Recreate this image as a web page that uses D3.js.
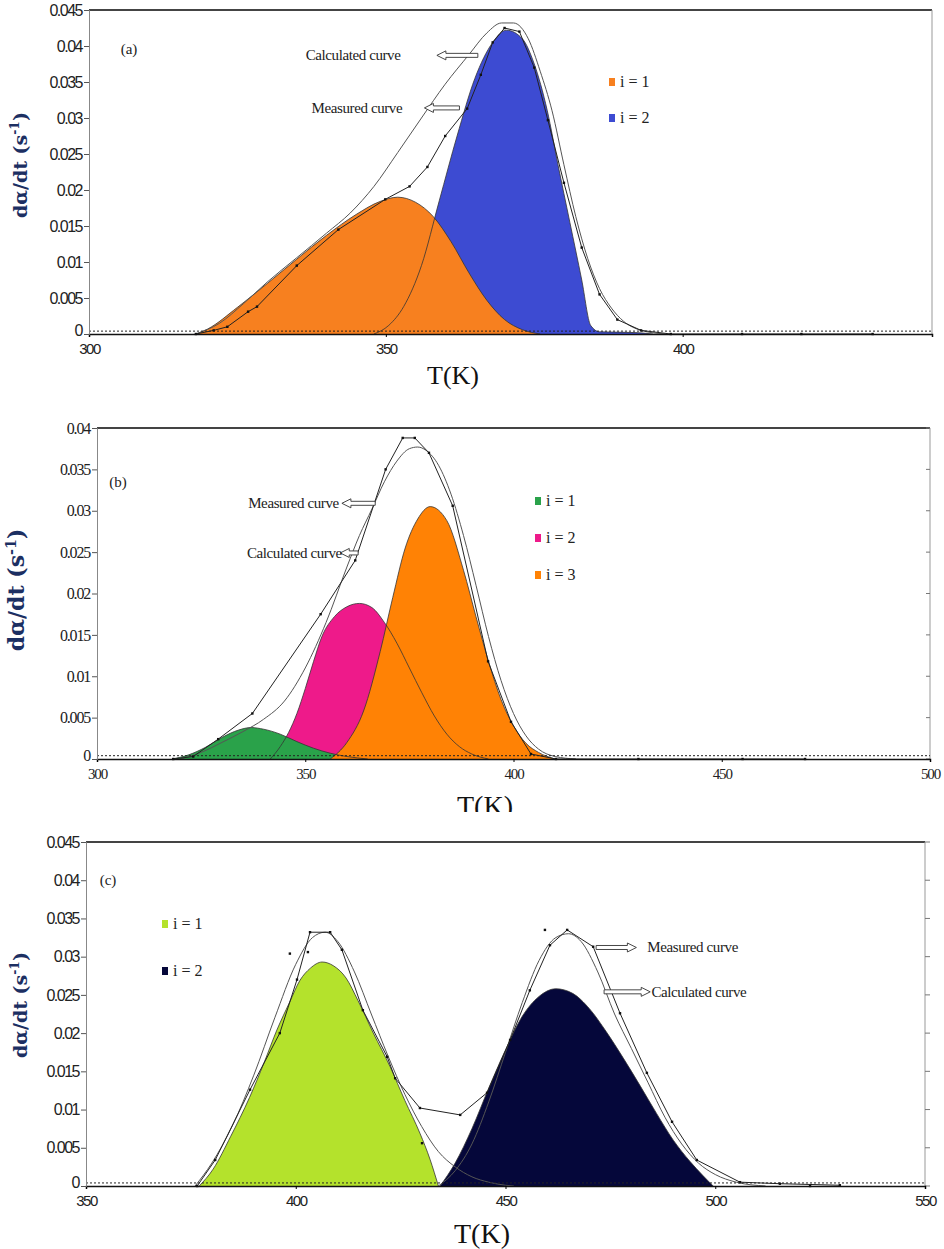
<!DOCTYPE html>
<html>
<head>
<meta charset="utf-8">
<script src="https://cdn.jsdelivr.net/npm/d3@7"></script>
<style>
  body { margin: 0; background: #fff; }
  .tick text { font-family: "Liberation Sans Narrow", "Liberation Sans", sans-serif; }
</style>
</head>
<body>
<svg id="chart" width="944" height="1249"></svg>
<script>
// ---------- data: [T (K), dα/dt (1/s)] ----------
// panel (a)
const aComp1 = [[318,0],[320,0.0007],[325,0.0037],[330,0.007],[335,0.0104],[340,0.0137],[345,0.0166],[349,0.0184],[352,0.019],[355,0.0183],[358,0.0163],[361,0.0128],[364,0.0085],[367,0.0047],[370,0.002],[373,0.0006],[376,0]];
const aComp2 = [[348,0],[350.5,0.0012],[353,0.0038],[356,0.0095],[359,0.0185],[362,0.0275],[365,0.0355],[368,0.0405],[370.3,0.0422],[373,0.041],[375,0.0375],[377.2,0.031],[379,0.0235],[381,0.0155],[383,0.0075],[384.5,0.0012],[386,0.0003],[392,0.0002],[395,0]];
const aCalc = [[318,0],[322,0.0015],[326,0.0042],[330,0.0072],[335,0.0106],[340,0.014],[344,0.0168],[348,0.0205],[352,0.0252],[356,0.03],[360,0.0347],[364,0.0388],[367,0.0418],[369.5,0.0432],[371.5,0.0432],[374,0.041],[376,0.0365],[378,0.031],[380,0.0235],[382,0.0163],[384,0.0105],[386,0.0063],[388,0.0036],[390,0.0018],[393,0.0005],[397,0]];
const aMeas = [[318,0],[321,0.0005],[323.3,0.001],[326.8,0.0031],[328.3,0.0038],[335,0.0095],[342,0.0145],[349.9,0.0187],[354,0.0205],[357,0.0232],[360,0.0275],[363.7,0.0313],[366,0.036],[368,0.0405],[370,0.0425],[372.5,0.042],[375,0.037],[377.3,0.0297],[380,0.021],[383,0.012],[386,0.0055],[389,0.002],[393,0.0005],[398,0],[410,0],[420,0],[432,0]];
const aTicksY = [0,0.005,0.01,0.015,0.02,0.025,0.03,0.035,0.04,0.045];
const aTicksX = [300,350,400];

// panel (b)
const bComp1 = [[318,0],[322,0.0005],[326,0.0014],[330,0.0026],[334,0.0035],[337,0.0038],[340,0.0036],[344,0.003],[348,0.0021],[352,0.0013],[356,0.0007],[360,0.0003],[365,0]];
const bComp2 = [[341.6,0],[344,0.0015],[346,0.0032],[348,0.0055],[350,0.0085],[352,0.0118],[354,0.0148],[357,0.0172],[360,0.0184],[363,0.0188],[366,0.0183],[369,0.0165],[372,0.014],[375,0.011],[378,0.008],[381,0.0052],[384,0.003],[387,0.0015],[390,0.0006],[394,0]];
const bComp3 = [[356,0],[360,0.002],[364,0.0058],[368,0.013],[371,0.0195],[374,0.0255],[377,0.029],[380,0.0305],[384,0.0288],[388,0.0228],[391,0.0172],[394,0.0118],[397,0.0072],[400,0.004],[403,0.0019],[406,0.0008],[410,0]];
const bCalc = [[320,0],[325,0.0008],[330,0.002],[335,0.0033],[340,0.0048],[345,0.007],[350,0.011],[355,0.0165],[360,0.0232],[363,0.027],[366,0.0302],[369,0.0335],[372,0.036],[375,0.0375],[377,0.0377],[379,0.0373],[382,0.0355],[385,0.032],[388,0.027],[391,0.021],[394,0.0148],[397,0.0095],[400,0.0055],[403,0.0028],[406,0.0012],[410,0.0003],[415,0]];
const bMeas = [[318.3,0],[323.1,0.0003],[329.1,0.0024],[337.3,0.0055],[353.7,0.0175],[362,0.024],[369.3,0.035],[373.4,0.0388],[376.3,0.0388],[379.7,0.037],[385.4,0.0306],[393.9,0.0118],[399.4,0.0045],[404.2,0.0006],[410.2,0],[430,0],[455,0],[470,0]];
const bTicksY = [0,0.005,0.01,0.015,0.02,0.025,0.03,0.035,0.04];
const bTicksX = [300,350,400,450,500];

// panel (c)
const cComp1 = [[377,0],[380.3,0.0022],[384.5,0.0065],[389,0.0116],[392.5,0.0162],[395.5,0.0204],[398.5,0.024],[401,0.0269],[403.5,0.0285],[406.3,0.0293],[409,0.0288],[412,0.0272],[414.8,0.0243],[418.5,0.02],[422.5,0.0156],[426,0.0112],[429.6,0.0069],[432,0.0035],[434,0]];
const cComp2 = [[434.4,0],[438,0.003],[442,0.0075],[446,0.0128],[450,0.0178],[454,0.0222],[458,0.0248],[462,0.0258],[466,0.0252],[470,0.0232],[474,0.0202],[478,0.0168],[482,0.0132],[486,0.0095],[490,0.006],[494,0.0032],[497,0.0014],[499.5,0]];
const cCalc1 = [[376,0],[380,0.003],[385,0.008],[390,0.0145],[395,0.022],[400,0.029],[404,0.0325],[407,0.0332],[410,0.032],[414,0.028],[418,0.0225],[422,0.017],[426,0.012],[430,0.0078],[434,0.0045],[438,0.0025],[442,0.0012],[446,0.0005],[450,0.0001],[452,0]];
const cCalc2 = [[434,0],[438,0.002],[442,0.0055],[446,0.011],[450,0.0175],[454,0.024],[458,0.0295],[462,0.0325],[465,0.033],[468,0.032],[472,0.028],[476,0.0225],[480,0.018],[484,0.0135],[488,0.009],[492,0.0055],[496,0.003],[500,0.0015],[505,0.0005],[512,0]];
const cMeas = [[376.5,0],[380.8,0.0034],[389.1,0.0126],[396.2,0.02],[400.3,0.027],[403.4,0.0332],[408.2,0.0332],[411,0.0309],[416,0.023],[421.8,0.0169],[423.7,0.0141],[429.6,0.0102],[439.2,0.0093],[445.6,0.0122],[451.1,0.0191],[455.8,0.0256],[460.6,0.0315],[464.7,0.0335],[470.9,0.0313],[477.3,0.0226],[483.7,0.0148],[489.7,0.0084],[495.6,0.0034],[505.9,0.0005],[515.4,0.0003],[529.7,0.0001]];
const cStray = [[398.6,0.0304],[402.9,0.0306],[459.4,0.0335],[430.1,0.0056],[522.6,0]];
const cTicksY = [0,0.005,0.01,0.015,0.02,0.025,0.03,0.035,0.04,0.045];
const cTicksX = [350,400,450,500,550];

const legendA = ['i = 1', 'i = 2'];
const legendB = ['i = 1', 'i = 2', 'i = 3'];
const legendC = ['i = 1', 'i = 2'];

const svg = d3.select('#chart');
svg.append('rect').attr('width', 944).attr('height', 1249).attr('fill', '#fff');

const fmtY = d => d === 0 ? '0' : d3.format('.3~f')(d);

function drawPanel(p) {
    const g = svg.append('g');
    g.append('rect')
        .attr('x', 0).attr('y', p.bgTop).attr('width', 944).attr('height', p.bgH)
        .attr('fill', '#fff');
    const x = d3.scaleLinear().domain(p.xDomain).range(p.xRange);
    const y = d3.scaleLinear().domain(p.yDomain).range(p.yRange);

    // frame: top and right
    g.append('line')
        .attr('x1', p.xRange[0]).attr('x2', p.xRange[1])
        .attr('y1', p.yRange[1]).attr('y2', p.yRange[1])
        .attr('stroke', '#444').attr('stroke-width', 2);
    g.append('line')
        .attr('x1', p.xRange[1]).attr('x2', p.xRange[1])
        .attr('y1', p.yRange[1]).attr('y2', p.yRange[0])
        .attr('stroke', '#999').attr('stroke-width', 1);
    // right side ticks
    g.selectAll('.rt').data(p.ticksY).enter().append('line')
        .attr('x1', p.xRange[1]).attr('x2', p.xRange[1] + p.rightTick)
        .attr('y1', d => y(d)).attr('y2', d => y(d))
        .attr('stroke', '#777');

    // fills
    const area = d3.area()
        .x(d => x(d[0]))
        .y0(y(0))
        .y1(d => y(d[1]))
        .curve(d3.curveMonotoneX);
    const line = d3.line()
        .x(d => x(d[0]))
        .y(d => y(d[1]))
        .curve(d3.curveMonotoneX);
    p.comps.forEach(c => {
        g.append('path').datum(c.data)
            .attr('fill', c.color)
            .attr('d', area);
    });
    // component outlines
    p.comps.forEach(c => {
        g.append('path').datum(c.data)
            .attr('fill', 'none')
            .attr('stroke', '#333')
            .attr('stroke-width', 0.8)
            .attr('d', line);
    });
    // calculated curves
    p.calc.forEach(c => {
        g.append('path').datum(c)
            .attr('fill', 'none')
            .attr('stroke', '#555')
            .attr('stroke-width', 1)
            .attr('d', line);
    });
    // measured polyline with points
    g.append('path').datum(p.meas)
        .attr('fill', 'none')
        .attr('stroke', '#222')
        .attr('stroke-width', 1)
        .attr('d', d3.line().x(d => x(d[0])).y(d => y(d[1])));
    g.selectAll('.pt').data(p.meas.concat(p.stray || [])).enter().append('rect')
        .attr('x', d => x(d[0]) - 1.2).attr('y', d => y(d[1]) - 1.2)
        .attr('width', 2.4).attr('height', 2.4)
        .attr('fill', '#111');

    // dotted baseline
    g.append('line')
        .attr('x1', p.xRange[0]).attr('x2', p.xRange[1])
        .attr('y1', y(0.0004)).attr('y2', y(0.0004))
        .attr('stroke', '#222').attr('stroke-width', 1)
        .attr('stroke-dasharray', '2,2');

    // axes
    const ax = g.append('g')
        .attr('transform', `translate(0,${p.yRange[0]})`)
        .call(d3.axisBottom(x).tickValues(p.ticksX).tickSize(3).tickPadding(6).tickFormat(d3.format('d')));
    ax.select('.domain').attr('stroke', '#111').attr('stroke-width', 1.5);
    ax.selectAll('text').attr('font-size', 15).attr('letter-spacing', -1.5).attr('fill', '#222');
    const ay = g.append('g')
        .attr('transform', `translate(${p.xRange[0]},0)`)
        .call(d3.axisLeft(y).tickValues(p.ticksY).tickSize(5).tickPadding(2).tickFormat(fmtY));
    ay.select('.domain').attr('stroke', '#888');
    ay.selectAll('line').attr('stroke', '#555');
    ay.selectAll('text').attr('font-size', 16).attr('letter-spacing', -1.5).attr('fill', '#222');
    // lift the "0" label so it clears the first x label
    ay.selectAll('.tick').filter(d => d === 0).select('text').attr('dy', '0.1em');
    if (p.serifTicks) {
        g.selectAll('.tick text')
            .style('font-family', '"Liberation Serif", serif')
            .attr('letter-spacing', -1.2);
    }

    // y label
    g.append('text')
        .attr('transform', `translate(${p.yLab[0]},${p.yLab[1]}) rotate(-90)`)
        .attr('text-anchor', 'middle')
        .attr('fill', '#1c2f62')
        .attr('font-family', '"DejaVu Serif", serif')
        .attr('font-weight', 'bold')
        .attr('font-size', p.yLabSize)
        .html('dα/dt (s<tspan dy="-8" font-size="' + (p.yLabSize * 0.65) + '">-1</tspan><tspan dy="8">)</tspan>');
    // x label
    g.append('text')
        .attr('x', p.xLab[0]).attr('y', p.xLab[1])
        .attr('text-anchor', 'middle')
        .attr('font-family', '"Liberation Serif", serif')
        .attr('font-size', p.xLabSize)
        .attr('fill', '#111')
        .text('T(K)');
    // panel tag
    g.append('text')
        .attr('x', p.tag[0]).attr('y', p.tag[1])
        .attr('text-anchor', 'middle')
        .attr('font-family', '"Liberation Serif", serif')
        .attr('font-size', 15)
        .attr('fill', '#222')
        .text(p.tag[2]);

    // legend
    p.legend.forEach((lab, i) => {
        const ly = p.legPos[1] + i * p.legStep;
        g.append('rect')
            .attr('x', p.legPos[0] - 3).attr('y', ly - 4)
            .attr('width', 6).attr('height', 8)
            .attr('fill', p.comps[p.legOrder[i]].color);
        g.append('text')
            .attr('x', p.legPos[0] + 8).attr('y', ly + 5)
            .attr('font-family', '"Liberation Serif", serif')
            .attr('font-size', 16)
            .attr('fill', '#222')
            .text(lab);
    });

    // annotations: hollow block arrows + labels
    p.notes.forEach(n => {
        const y0 = y(n.v);
        const xt = x(n.tail), xh = x(n.head);
        const dir = xh < xt ? -1 : 1;
        const hl = 9, sh = 2, hh = 4.5;
        const path = d3.path();
        path.moveTo(xt, y0 - sh);
        path.lineTo(xh - dir * hl, y0 - sh);
        path.lineTo(xh - dir * hl, y0 - hh);
        path.lineTo(xh, y0);
        path.lineTo(xh - dir * hl, y0 + hh);
        path.lineTo(xh - dir * hl, y0 + sh);
        path.lineTo(xt, y0 + sh);
        path.closePath();
        g.append('path').attr('d', path.toString())
            .attr('fill', '#fff').attr('stroke', '#333').attr('stroke-width', 0.9);
        g.append('text')
            .attr('x', x(n.textT)).attr('y', y0 + 5)
            .attr('font-family', '"Liberation Serif", serif')
            .attr('font-size', 15)
            .attr('letter-spacing', -0.4)
            .attr('fill', '#222')
            .text(n.label);
    });
}

// panel (a)
drawPanel({
    bgTop: 0, bgH: 400,
    xDomain: [300, 442], xRange: [89, 932],
    yDomain: [0, 0.045], yRange: [334, 10],
    ticksX: aTicksX, ticksY: aTicksY, rightTick: 0,
    comps: [{ data: aComp2, color: '#3d4bd2' }, { data: aComp1, color: '#f7801f' }],
    legend: legendA, legOrder: [1, 0], legPos: [612, 82], legStep: 36,
    calc: [aCalc], meas: aMeas,
    yLab: [27, 165], yLabSize: 19,
    xLab: [453, 384], xLabSize: 26,
    tag: [129, 54, '(a)'],
    notes: [
        { label: 'Calculated curve', textT: 336.5, v: 0.0387, tail: 365.5, head: 358.6 },
        { label: 'Measured curve', textT: 337.5, v: 0.0314, tail: 362.4, head: 356.5 }
    ]
});

// panel (b)
drawPanel({
    bgTop: 400, bgH: 412,
    xDomain: [300, 500], xRange: [97, 930],
    yDomain: [0, 0.04], yRange: [759, 428],
    ticksX: bTicksX, ticksY: bTicksY, rightTick: -4, serifTicks: true,
    comps: [{ data: bComp2, color: '#ee1a8a' }, { data: bComp1, color: '#2aa24a' }, { data: bComp3, color: '#ff8205' }],
    legend: legendB, legOrder: [1, 0, 2], legPos: [538, 501], legStep: 37,
    calc: [bCalc], meas: bMeas,
    yLab: [24, 590], yLabSize: 22,
    xLab: [485, 815], xLabSize: 28,
    tag: [118, 487, '(b)'],
    notes: [
        { label: 'Measured curve', textT: 336.3, v: 0.0309, tail: 366.8, head: 358.8 },
        { label: 'Calculated curve', textT: 336, v: 0.0249, tail: 362.7, head: 358.4 }
    ]
});

// panel (c)
drawPanel({
    bgTop: 812, bgH: 437,
    xDomain: [350, 550], xRange: [86, 925],
    yDomain: [0, 0.045], yRange: [1186, 842],
    ticksX: cTicksX, ticksY: cTicksY, rightTick: 5,
    comps: [{ data: cComp1, color: '#b4e22c' }, { data: cComp2, color: '#05073a' }],
    legend: legendC, legOrder: [0, 1], legPos: [165, 924], legStep: 47,
    calc: [cCalc1, cCalc2], meas: cMeas, stray: cStray,
    yLab: [27, 1005], yLabSize: 19,
    xLab: [482, 1243], xLabSize: 28,
    tag: [108, 885, '(c)'],
    notes: [
        { label: 'Measured curve', textT: 483.8, v: 0.0312, tail: 471.6, head: 481.2 },
        { label: 'Calculated curve', textT: 484.8, v: 0.0254, tail: 473.5, head: 484.5 }
    ]
});
</script>
</body>
</html>
